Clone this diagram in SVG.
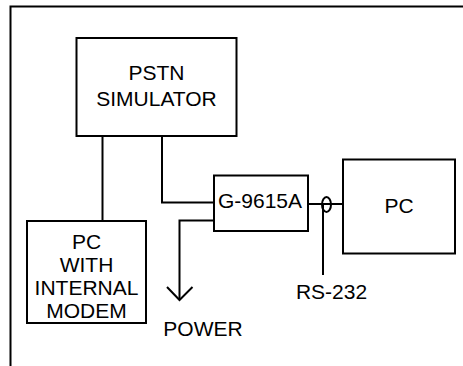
<svg xmlns="http://www.w3.org/2000/svg" width="463" height="366" viewBox="0 0 463 366">
<style>
.box{fill:#fff;stroke:#000;stroke-width:2}
.ln{fill:none;stroke:#000;stroke-width:2}
text{font-family:"Liberation Sans",Arial,sans-serif;font-size:21px;fill:#000;text-anchor:middle}
</style>
<rect width="463" height="366" fill="#fff"/>
<g id="frame"><path class="ln" d="M10.5,366 V6.5 H463"/></g>
<g id="connectors">
<path class="ln" d="M102.5,136 V221"/>
<path class="ln" d="M162,136 V202.5 H214"/>
<path class="ln" d="M214,220.5 H179.5 V300"/>
<path class="ln" d="M167,287 L179.5,300 L192.5,287"/>
<path class="ln" d="M308,204 H343"/>
<ellipse class="ln" cx="326.5" cy="204.5" rx="4.5" ry="7.5"/>
<path class="ln" d="M323,205 V275"/>
</g>
<g id="pstn"><rect class="box" x="76.5" y="38" width="160" height="98"/>
<text x="156.5" y="80">PSTN</text><text x="156.5" y="106">SIMULATOR</text></g>
<g id="pcmodem"><rect class="box" x="27" y="221" width="119" height="102"/>
<text x="86.5" y="249">PC</text><text x="86.5" y="272">WITH</text><text x="86.5" y="294.5">INTERNAL</text><text x="86.5" y="317.5">MODEM</text></g>
<g id="g9615a"><rect class="box" x="214" y="175.5" width="94" height="55.5"/>
<text x="260" y="207.5">G-9615A</text></g>
<g id="pc"><rect class="box" x="343" y="159.5" width="112" height="94"/>
<text x="399" y="212.5">PC</text></g>
<g id="labels"><text x="203" y="335.5">POWER</text><text x="331.5" y="298.5">RS-232</text></g>
</svg>
